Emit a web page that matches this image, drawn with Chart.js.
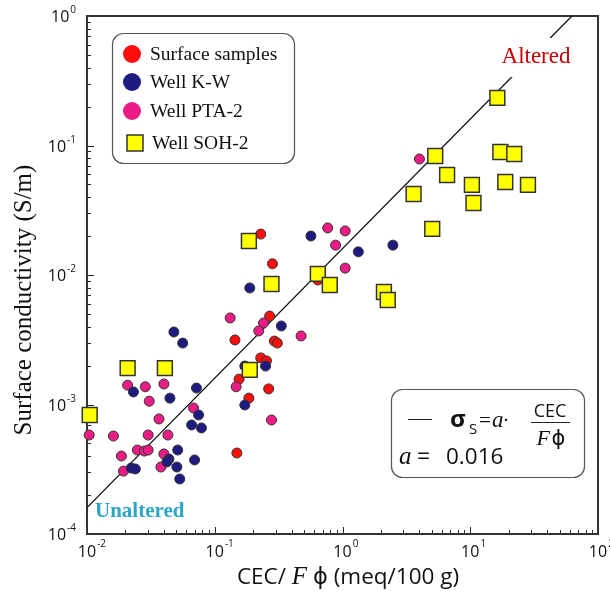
<!DOCTYPE html>
<html><head><meta charset="utf-8">
<script src="https://cdn.jsdelivr.net/npm/chart.js@4.4.0/dist/chart.umd.min.js"></script>
<style>html,body{margin:0;padding:0;background:#fff;overflow:hidden}canvas{display:block}</style>
</head><body>
<canvas id="c" width="610" height="591"></canvas>
<script>
// ---- data (CEC/Fphi in meq/100 g, surface conductivity in S/m) ----
const surfaceX = [0.229,0.283,0.269,0.144,0.293,0.309,0.229,0.254,0.155,0.264,0.185,0.149,0.641];
const surfaceY = [0.0207,0.0122,0.00482,0.00315,0.00309,0.00298,0.00229,0.00217,0.00157,0.00132,0.00112,0.000422,0.00915];

const kwX = [0.566,1.33,2.48,0.188,0.332,0.172,0.250,0.172,0.0479,0.0561,0.0231,0.0446,0.0719,0.0747,0.0659,0.0787,0.0513,0.0438,0.0422,0.0505,0.0695,0.0532,0.0222,0.0239];
const kwY = [0.0200,0.0151,0.0170,0.00794,0.00404,0.00198,0.00198,0.000991,0.00363,0.00298,0.00125,0.00112,0.00134,0.000830,0.000695,0.000659,0.000445,0.000379,0.000360,0.000329,0.000373,0.000266,0.000323,0.000318];

const ptaX = [0.766,1.05,0.883,1.05,4.00,0.132,0.241,0.221,0.474,0.147,0.278,0.0208,0.0286,0.0307,0.0400,0.0682,0.0366,0.0104,0.0161,0.0301,0.0430,0.0248,0.0281,0.0301,0.0186,0.0400,0.0379,0.0193];
const ptaY = [0.0231,0.0219,0.0170,0.0113,0.0787,0.00466,0.00426,0.00370,0.00338,0.00137,0.000759,0.00141,0.00137,0.00106,0.00144,0.000940,0.000773,0.000581,0.000571,0.000581,0.000581,0.000445,0.000437,0.000445,0.000400,0.000415,0.000329,0.000306];

const sohX = [16.3,17.2,22.1,5.32,6.59,10.3,18.8,28.3,3.60,10.6,5.04,0.185,0.278,0.641,0.795,2.11,2.26,0.188,0.0208,0.0407,0.0105];
const sohY = [0.233,0.0891,0.0860,0.0830,0.0592,0.0496,0.0523,0.0496,0.0422,0.0360,0.0227,0.0183,0.00852,0.0102,0.00837,0.00739,0.00641,0.00185,0.00191,0.00191,0.000830];

// fitted line sigma_s = a * CEC/Fphi, a = 0.016 (end points)
const fitX = [0.01, 62.5];
const fitY = [0.00016, 1.0];

// axis ticks (decade exponents)
const xTickExp = [-2,-1,0,1,2];
const yTickExp = [-4,-3,-2,-1,0];

const seriesNames = ['Surface samples','Well K-W','Well PTA-2','Well SOH-2'];

function pts(xs, ys){ return xs.map((x,i)=>({x:x, y:ys[i]})); }

const SANS = '"Open Sans","DejaVu Sans",sans-serif';
const SERIF = '"Liberation Serif","DejaVu Serif",serif';

function roundRectPath(ctx,x,y,w,h,r){
  ctx.beginPath();
  ctx.moveTo(x+r,y); ctx.lineTo(x+w-r,y); ctx.arcTo(x+w,y,x+w,y+r,r);
  ctx.lineTo(x+w,y+h-r); ctx.arcTo(x+w,y+h,x+w-r,y+h,r);
  ctx.lineTo(x+r,y+h); ctx.arcTo(x,y+h,x,y+h-r,r);
  ctx.lineTo(x,y+r); ctx.arcTo(x,y,x+r,y,r); ctx.closePath();
}
function drawSegs(ctx, segs, x0, baseline, center){
  let total=0;
  segs.forEach(s=>{ctx.font=s.f; s.w=ctx.measureText(s.t).width; total+=s.w;});
  let x = center ? x0-total/2 : x0;
  segs.forEach(s=>{ctx.font=s.f; ctx.fillStyle=s.c||'#111'; ctx.fillText(s.t,x,baseline+(s.dy||0)); x+=s.w;});
}

const framePlugin = {
  id:'frame',
  beforeDatasetsDraw(chart){
    const ctx=chart.ctx, ca=chart.chartArea, xs=chart.scales.x, ys=chart.scales.y;
    ctx.save();
    ctx.strokeStyle='#2a2a2a'; ctx.lineWidth=1;
    ctx.beginPath();
    xTickExp.forEach((e,i)=>{
      const px=Math.round(xs.getPixelForValue(Math.pow(10,e)))+0.5;
      ctx.moveTo(px,ca.bottom); ctx.lineTo(px,ca.bottom-7);
      if(i<xTickExp.length-1){ for(let m=2;m<=9;m++){ const p=Math.round(xs.getPixelForValue(m*Math.pow(10,e)))+0.5; ctx.moveTo(p,ca.bottom); ctx.lineTo(p,ca.bottom-4);} }
    });
    yTickExp.forEach((e,i)=>{
      const py=Math.round(ys.getPixelForValue(Math.pow(10,e)))+0.5;
      ctx.moveTo(ca.left,py); ctx.lineTo(ca.left+7,py);
      if(i<yTickExp.length-1){ for(let m=2;m<=9;m++){ const p=Math.round(ys.getPixelForValue(m*Math.pow(10,e)))+0.5; ctx.moveTo(ca.left,p); ctx.lineTo(ca.left+4,p);} }
    });
    ctx.stroke();
    ctx.lineWidth=2; ctx.strokeStyle='#333';
    ctx.strokeRect(ca.left,ca.top,ca.right-ca.left,ca.bottom-ca.top);
    ctx.restore();
  },
  afterDatasetsDraw(chart){
    const ctx=chart.ctx, ca=chart.chartArea, xs=chart.scales.x, ys=chart.scales.y;
    ctx.save();
    ctx.textAlign='left'; ctx.textBaseline='alphabetic'; ctx.fillStyle='#111';
    xTickExp.forEach(e=>{
      const px=xs.getPixelForValue(Math.pow(10,e));
      ctx.font='16px '+SANS; const wb=ctx.measureText('10').width;
      ctx.fillText('10',px-wb/2,ca.bottom+23);
      ctx.font='10px '+SANS; ctx.fillText(String(e),px+wb/2+1,ca.bottom+13);
    });
    yTickExp.forEach(e=>{
      const py=ys.getPixelForValue(Math.pow(10,e));
      ctx.font='10px '+SANS; const we=ctx.measureText(String(e)).width;
      ctx.fillText(String(e),76-we,py-3);
      ctx.font='16px '+SANS; const wb=ctx.measureText('10').width;
      ctx.fillText('10',76-we-1-wb,py+6);
    });
    drawSegs(ctx,[
      {t:'CEC/ ',f:'22.5px '+SANS},
      {t:'F',f:'italic 25px '+SERIF},
      {t:' ',f:'22.5px '+SANS},
      {t:'\u03D5',f:'22.5px "DejaVu Sans",sans-serif'},
      {t:' (meq/100 g)',f:'22.5px '+SANS}
    ],348,584,true);
    ctx.save();
    ctx.translate(31,300); ctx.rotate(-Math.PI/2);
    ctx.font='25px '+SERIF; ctx.textAlign='center'; ctx.fillStyle='#111';
    ctx.fillText('Surface conductivity (S/m)',0,0);
    ctx.restore();

    ctx.fillStyle='#fff'; ctx.fillRect(498,38,78,39);
    ctx.font='23px '+SERIF; ctx.fillStyle='#c80000'; ctx.textAlign='center';
    ctx.fillText('Altered',536,63);
    ctx.font='bold 21px '+SERIF; ctx.fillStyle='#2ba6c4'; ctx.textAlign='left';
    ctx.fillText('Unaltered',95,517);

    roundRectPath(ctx,112.5,33.5,182,130,11);
    ctx.fillStyle='#fff'; ctx.fill(); ctx.lineWidth=1.2; ctx.strokeStyle='#555'; ctx.stroke();
    const ly=[54,82,111,143];
    const dsByName = {};
    chart.data.datasets.forEach(d=>{dsByName[d.label]=d;});
    seriesNames.forEach((n,i)=>{
      const d=dsByName[n];
      if(d.pointStyle==='rect'){
        ctx.fillStyle=d.backgroundColor; ctx.fillRect(127,ly[i]-8,16,16);
        ctx.lineWidth=1.5; ctx.strokeStyle='#333'; ctx.strokeRect(127,ly[i]-8,16,16);
      } else {
        ctx.beginPath(); ctx.arc(132,ly[i],9,0,Math.PI*2); ctx.fillStyle=d.backgroundColor; ctx.fill();
      }
      ctx.fillStyle='#111'; ctx.font='19.5px '+SERIF; ctx.textAlign='left';
      ctx.fillText(n, d.pointStyle==='rect'?152:150, ly[i]+6);
    });

    roundRectPath(ctx,391.5,389.5,193,88,11);
    ctx.fillStyle='#fff'; ctx.fill(); ctx.lineWidth=1.2; ctx.strokeStyle='#555'; ctx.stroke();
    ctx.beginPath(); ctx.moveTo(408,419.5); ctx.lineTo(432,419.5); ctx.lineWidth=1; ctx.strokeStyle='#222'; ctx.stroke();
    ctx.fillStyle='#111'; ctx.textAlign='left';
    ctx.font='bold 24px '+SANS; ctx.fillText('\u03C3',450,427);
    ctx.font='15px '+SANS; ctx.fillText('S',469,434);
    ctx.font='21px '+SERIF; ctx.fillText('=',479,427);
    ctx.font='italic 23px '+SERIF; ctx.fillText('a',492,427);
    ctx.font='bold 14px '+SANS; ctx.fillText('\u00B7',504,425);
    ctx.font='18px '+SANS; ctx.textAlign='center'; ctx.fillText('CEC',550,417);
    ctx.beginPath(); ctx.moveTo(531,422.5); ctx.lineTo(570,422.5); ctx.lineWidth=1; ctx.stroke();
    ctx.textAlign='left';
    drawSegs(ctx,[{t:'F',f:'italic 22px '+SERIF},{t:' ',f:'6px '+SANS},{t:'\u03D5',f:'21px "DejaVu Sans",sans-serif'}],551,445,true);
    ctx.font='italic 25px '+SERIF; ctx.fillText('a',399,464);
    ctx.font='23px '+SANS; ctx.fillText('=',417,464);
    ctx.font='22.5px '+SANS; ctx.fillText('0.016',446,464);
    ctx.restore();
  }
};

const common = {type:'scatter', borderWidth:1, borderColor:'#333', pointRadius:5, pointHoverRadius:5, pointStyle:'circle', clip:false};

new Chart(document.getElementById('c'),{
  type:'scatter',
  data:{datasets:[
    Object.assign({},common,{label:seriesNames[0], data:pts(surfaceX,surfaceY), backgroundColor:'#ff0d0d', order:3}),
    Object.assign({},common,{label:seriesNames[1], data:pts(kwX,kwY), backgroundColor:'#1f1a80', order:1}),
    Object.assign({},common,{label:seriesNames[2], data:pts(ptaX,ptaY), backgroundColor:'#ec1c86', order:2}),
    Object.assign({},common,{label:seriesNames[3], data:pts(sohX,sohY), backgroundColor:'#ffff00', pointStyle:'rect', pointRadius:10.5, pointHoverRadius:10.5, borderWidth:1.5, order:0}),
    {type:'line', label:'fit', data:pts(fitX,fitY), borderColor:'#111', borderWidth:1.3, pointRadius:0, fill:false, order:10, clip:true}
  ]},
  options:{
    responsive:false, animation:false, events:[],
    layout:{padding:{left:87,right:5,top:16,bottom:57}},
    plugins:{legend:{display:false}, tooltip:{enabled:false}},
    scales:{
      x:{type:'logarithmic', min:0.01, max:100, display:false},
      y:{type:'logarithmic', min:0.0001, max:1, display:false}
    }
  },
  plugins:[framePlugin]
});
</script>
</body></html>
